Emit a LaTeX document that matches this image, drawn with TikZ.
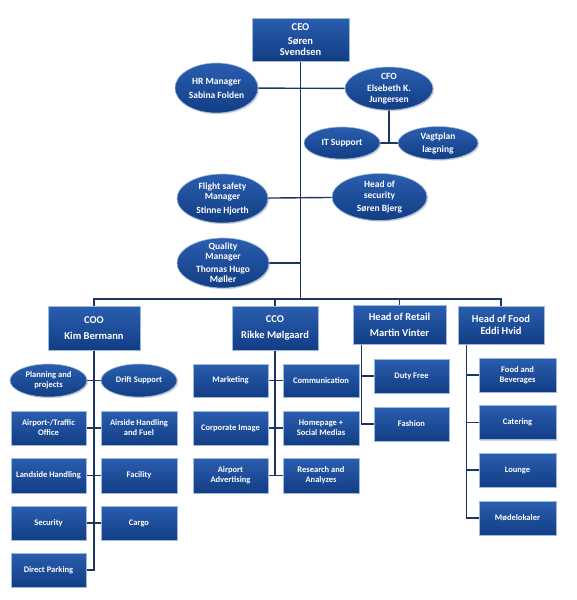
\documentclass[tikz,border=0pt]{standalone}
\usepackage{fontspec}
\setmainfont{Carlito}
\usetikzlibrary{shapes.geometric,shadows,backgrounds}
\definecolor{boxtop}{HTML}{2A5EAF}
\definecolor{boxbot}{HTML}{123D84}
\definecolor{boxline}{HTML}{9DB9E0}
\definecolor{conn}{HTML}{1B365F}
\tikzset{
  unit/.style={top color=boxtop, bottom color=boxbot, draw=boxline, line width=0.6pt,
    text=white, align=center, inner sep=0pt,
    drop shadow={opacity=0.35, shadow xshift=1.2pt, shadow yshift=-1.2pt}},
  headbox/.style={unit, rectangle, font=\bfseries\fontsize{10.5}{12}\selectfont},
  smallbox/.style={unit, rectangle, minimum width=75pt, minimum height=34pt, font=\bfseries\fontsize{8.5}{10}\selectfont},
  bigell/.style={unit, ellipse},
  etext/.style={text=white, align=center, font=\bfseries\fontsize{9.5}{11}\selectfont},
  stext/.style={text=white, align=center, font=\bfseries\fontsize{8.5}{10}\selectfont},
  link/.style={draw=conn, line width=1.4pt}
}
\begin{document}
\begin{tikzpicture}[x=1pt,y=-1pt]
\useasboundingbox (0,0) rectangle (577,600);
% top
\node[headbox, minimum width=97pt, minimum height=43pt, font=\bfseries\fontsize{10.5}{11}\selectfont] (ceo) at (300.5,39.5) {CEO\\[3pt]Søren\\Svendsen};
\node[bigell, minimum width=83pt, minimum height=50pt, label={[etext]center:{HR Manager\\[3pt]Sabina Folden}}] (hr) at (216.5,88) {};
\node[bigell, minimum width=88pt, minimum height=43pt, label={[etext]center:{CFO\\[1pt]Elsebeth K.\\Jungersen}}] (cfo) at (389,88.5) {};
\node[bigell, minimum width=76pt, minimum height=32pt, label={[etext]center:{IT Support}}] (it) at (342,143) {};
\node[bigell, minimum width=80pt, minimum height=33pt, label={[etext]center:{Vagtplan\\[2pt]lægning}}] (vagt) at (438,143) {};
\node[bigell, minimum width=91pt, minimum height=49pt, label={[etext, font=\bfseries\fontsize{9.5}{10.5}\selectfont]center:{Flight safety\\Manager\\[3pt]Stinne Hjorth}}] (flight) at (222.5,198.5) {};
\node[bigell, minimum width=95pt, minimum height=47pt, label={[etext, font=\bfseries\fontsize{9.5}{10.5}\selectfont]center:{Head of\\security\\[3pt]Søren Bjerg}}] (headsec) at (379.5,197) {};
\node[bigell, minimum width=92pt, minimum height=50pt, label={[etext, font=\bfseries\fontsize{9.5}{10.5}\selectfont]center:{Quality\\Manager\\[2pt]Thomas Hugo\\Møller}}] (quality) at (223,263) {};
% heads
\node[headbox, minimum width=92pt, minimum height=44pt] (coo) at (94,328) {COO\\[4pt]Kim Bermann};
\node[headbox, minimum width=86pt, minimum height=44pt] (cco) at (275,328) {CCO\\[4pt]Rikke Mølgaard};
\node[headbox, minimum width=93pt, minimum height=39pt] (retail) at (399.5,324.5) {Head of Retail\\[4pt]Martin Vinter};
\node[headbox, minimum width=86pt, minimum height=38pt] (food) at (501,325) {Head of Food\\Eddi Hvid};
% COO children
\node[bigell, minimum width=77pt, minimum height=33pt, label={[stext]center:{Planning and\\projects}}] (plan) at (48.5,380.5) {};
\node[bigell, minimum width=76pt, minimum height=33pt, label={[stext]center:{Drift Support}}] (drift) at (139,380.5) {};
\node[smallbox] (airport) at (48.5,428) {Airport-/Traffic\\Office};
\node[smallbox, minimum width=76pt] (airside) at (139,428) {Airside Handling\\and Fuel};
\node[smallbox, minimum height=35pt] (land) at (48.5,475.5) {Landside Handling};
\node[smallbox, minimum width=76pt, minimum height=35pt] (facility) at (139,475.5) {Facility};
\node[smallbox] (secu) at (48.5,523) {Security};
\node[smallbox, minimum width=76pt] (cargo) at (139,523) {Cargo};
\node[smallbox] (dpark) at (48.5,570) {Direct Parking};
% CCO children
\node[smallbox, minimum height=33pt] (mkt) at (230.5,380.5) {Marketing};
\node[smallbox, minimum width=76pt, minimum height=33pt] (comm) at (321,380.5) {Communication};
\node[smallbox] (corp) at (230.5,428) {Corporate Image};
\node[smallbox, minimum width=76pt] (home) at (321,428) {Homepage +\\Social Medias};
\node[smallbox, minimum height=35pt] (adv) at (230.5,475.5) {Airport\\Advertising};
\node[smallbox, minimum width=76pt, minimum height=35pt] (research) at (321,475.5) {Research and\\Analyzes};
% Retail children
\node[smallbox] (duty) at (411.5,376) {Duty Free};
\node[smallbox] (fashion) at (411.5,424) {Fashion};
% Food children
\node[smallbox, minimum width=77pt] (fab) at (517.5,375) {Food and\\Beverages};
\node[smallbox, minimum width=77pt] (cater) at (517.5,422.5) {Catering};
\node[smallbox, minimum width=77pt] (lounge) at (517.5,470) {Lounge};
\node[smallbox, minimum width=77pt] (mode) at (517.5,518) {Mødelokaler};
% junctions
\coordinate (bus) at (301,299);
\coordinate (rtop) at ([xshift=9pt]retail.south west);
\coordinate (ftop) at ([xshift=9pt]food.south west);
\begin{scope}[on background layer]
\draw[link] (ceo.south) -- (ceo.south |- bus);
\draw[link] (hr) -- (cfo);
\draw[link] (cfo.south) -- (cfo.south |- it);
\draw[link] (it) -- (vagt);
\draw[link] (flight) -- (headsec);
\draw[link] (quality) -- (quality -| ceo.south);
\draw[link] (coo.north) -- (coo.north |- bus) -| (food.north);
\draw[link] (cco.north) -- (cco.north |- bus);
\draw[link] (retail.north) -- (retail.north |- bus);
\draw[link] (coo.south) |- (dpark);
\draw[link] (plan) -- (drift);
\draw[link] (airport) -- (airside);
\draw[link] (land) -- (facility);
\draw[link] (secu) -- (cargo);
\draw[link] (cco.south) -- (cco.south |- adv);
\draw[link] (mkt) -- (comm);
\draw[link] (corp) -- (home);
\draw[link] (adv) -- (research);
\draw[link] (rtop) |- (fashion);
\draw[link] (duty) -- (duty -| rtop);
\draw[link] (ftop) |- (mode);
\draw[link] (fab) -- (fab -| ftop);
\draw[link] (cater) -- (cater -| ftop);
\draw[link] (lounge) -- (lounge -| ftop);
\end{scope}
\end{tikzpicture}
\end{document}
